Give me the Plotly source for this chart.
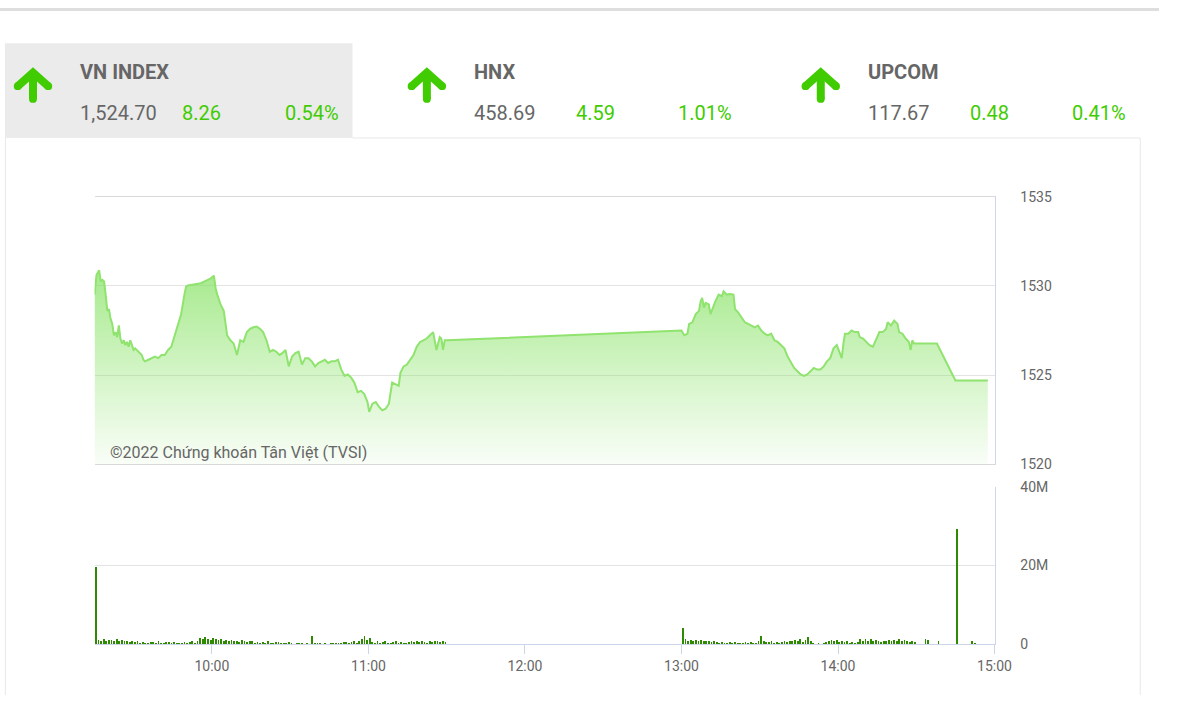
import pandas as pd
import plotly.graph_objects as go

W, H = 1177, 703
DAY = "2022-01-04 "

# ---------------- data ----------------
idx_times = [
    "09:15:00", "09:15:45", "09:16:46", "09:17:23", "09:18:01", "09:18:40", "09:19:16", "09:19:54",
    "09:20:33", "09:21:02", "09:21:48", "09:22:26", "09:23:02", "09:23:41", "09:24:19", "09:24:55",
    "09:25:34", "09:26:12", "09:26:48", "09:27:27", "09:28:05", "09:28:42", "09:29:20", "09:29:59",
    "09:30:35", "09:31:52", "09:33:07", "09:33:45", "09:34:21", "09:35:38", "09:36:53", "09:38:08",
    "09:39:25", "09:40:40", "09:41:55", "09:43:11", "09:44:26", "09:45:41", "09:46:58", "09:48:13",
    "09:49:27", "09:50:05", "09:50:44", "09:51:59", "09:53:14", "09:54:31", "09:55:45", "09:57:00",
    "09:58:17", "09:59:32", "10:00:46", "10:01:25", "10:02:03", "10:03:18", "10:04:33", "10:05:50",
    "10:07:05", "10:08:19", "10:09:36", "10:10:51", "10:12:05", "10:13:23", "10:14:37", "10:15:52",
    "10:17:09", "10:18:24", "10:19:38", "10:20:55", "10:22:10", "10:23:25", "10:24:42", "10:25:56",
    "10:26:58", "10:28:13", "10:29:27", "10:30:44", "10:31:59", "10:33:14", "10:34:31", "10:35:45",
    "10:37:00", "10:38:17", "10:39:32", "10:40:46", "10:42:04", "10:43:18", "10:44:33", "10:45:50",
    "10:47:05", "10:48:19", "10:49:36", "10:50:51", "10:52:05", "10:53:23", "10:54:37", "10:55:52",
    "10:57:09", "10:58:24", "10:59:38", "11:00:17", "11:01:32", "11:02:49", "11:04:04", "11:05:18",
    "11:06:35", "11:07:50", "11:09:05", "11:10:21", "11:11:36", "11:12:15", "11:13:29", "11:14:44",
    "11:16:01", "11:17:16", "11:18:31", "11:19:47", "11:21:02", "11:22:17", "11:23:34", "11:24:49",
    "11:26:04", "11:27:20", "11:27:56", "11:28:35", "11:29:14", "11:30:00",
    "13:00:00", "13:01:02", "13:02:17", "13:02:55", "13:04:10", "13:05:27", "13:06:42", "13:07:20",
    "13:07:56", "13:08:35", "13:09:14", "13:10:28", "13:11:07", "13:11:43", "13:13:00", "13:14:15",
    "13:15:29", "13:16:08", "13:17:23", "13:18:40", "13:19:55", "13:20:33", "13:21:47", "13:23:02",
    "13:24:19", "13:25:34", "13:26:49", "13:28:05", "13:29:20", "13:30:35", "13:31:52", "13:33:07",
    "13:34:22", "13:35:38", "13:36:53", "13:38:08", "13:39:25", "13:40:40", "13:41:55", "13:43:11",
    "13:44:26", "13:45:41", "13:46:58", "13:48:13", "13:49:27", "13:50:44", "13:51:59", "13:53:14",
    "13:54:31", "13:55:45", "13:57:00", "13:58:17", "13:59:32", "14:00:46", "14:01:25", "14:02:04",
    "14:02:40", "14:03:56", "14:05:11", "14:06:26", "14:07:43", "14:08:19", "14:09:36", "14:10:51",
    "14:12:05", "14:13:23", "14:14:37", "14:15:52", "14:17:09", "14:18:24", "14:19:02", "14:20:17",
    "14:21:32", "14:22:49", "14:23:25", "14:24:42", "14:25:56", "14:27:11", "14:27:50", "14:28:28",
    "14:29:05", "14:29:43", "14:37:54", "14:45:00", "14:57:24",
]
idx_values = [
    1529.51, 1530.60, 1530.88, 1530.24, 1530.33, 1530.24, 1529.51, 1528.60,
    1528.69, 1528.23, 1527.87, 1527.23, 1527.41, 1527.13, 1527.78, 1527.05,
    1526.77, 1526.95, 1526.68, 1526.86, 1526.59, 1526.95, 1526.68, 1526.41,
    1526.50, 1526.31, 1526.13, 1525.86, 1525.77, 1525.86, 1525.95, 1526.04,
    1525.95, 1526.13, 1526.13, 1526.41, 1526.59, 1527.23, 1527.87, 1528.42,
    1529.51, 1529.96, 1530.02, 1530.06, 1530.09, 1530.15, 1530.15, 1530.24,
    1530.33, 1530.42, 1530.57, 1529.87, 1529.51, 1528.96, 1528.60, 1527.23,
    1526.95, 1526.77, 1526.13, 1526.95, 1526.86, 1527.41, 1527.59, 1527.68,
    1527.72, 1527.59, 1527.41, 1526.95, 1526.31, 1526.41, 1526.31, 1526.13,
    1526.23, 1526.41, 1525.49, 1526.04, 1526.23, 1526.31, 1525.59, 1525.95,
    1525.95, 1525.77, 1525.49, 1525.68, 1525.77, 1525.86, 1525.68, 1525.77,
    1525.77, 1525.86, 1525.31, 1524.95, 1525.04, 1524.86, 1524.58, 1524.04,
    1524.12, 1523.94, 1523.49, 1522.94, 1523.40, 1523.49, 1523.22, 1523.03,
    1523.12, 1523.40, 1524.58, 1524.49, 1524.40, 1525.13, 1525.49, 1525.59,
    1525.86, 1526.13, 1526.59, 1526.86, 1526.95, 1527.05, 1527.23, 1527.41,
    1526.41, 1527.13, 1527.05, 1526.41, 1526.95, 1526.95,
    1527.50, 1527.23, 1527.32, 1527.87, 1527.96, 1528.42, 1528.60, 1529.14,
    1529.32, 1528.78, 1529.05, 1528.96, 1528.42, 1528.69, 1529.14, 1529.51,
    1529.42, 1529.69, 1529.51, 1529.54, 1529.51, 1528.69, 1528.50, 1528.23,
    1527.96, 1527.87, 1527.78, 1527.68, 1527.78, 1527.50, 1527.32, 1527.23,
    1527.32, 1526.95, 1526.86, 1526.68, 1526.50, 1526.04, 1525.68, 1525.40,
    1525.22, 1525.04, 1524.95, 1525.04, 1525.22, 1525.40, 1525.31, 1525.31,
    1525.49, 1525.77, 1525.95, 1526.50, 1526.68, 1526.23, 1525.95, 1526.77,
    1527.32, 1527.32, 1527.50, 1527.41, 1527.41, 1527.13, 1527.05, 1526.86,
    1526.68, 1526.59, 1527.05, 1527.41, 1527.41, 1527.59, 1527.96, 1527.78,
    1528.05, 1527.87, 1527.41, 1527.32, 1527.05, 1526.86, 1526.41, 1526.95,
    1526.77, 1526.77, 1526.77, 1524.70, 1524.70,
]

# volume per minute (millions of shares)
vol_am_start = "09:15"
vol_am = [
    19.6, 1.0, 0.9, 1.2, 0.8, 1.1, 1.0, 0.9, 1.3, 0.8, 1.0, 0.7, 0.9, 0.6, 0.8,
    0.5, 0.7, 0.4, 0.6, 0.3, 0.2, 0.6, 0.5, 0.3, 0.7, 0.4, 0.2, 0.5, 0.6, 0.3,
    0.5, 0.2, 0.4, 0.3, 0.6, 0.3, 0.5, 0.7, 0.4, 0.9, 1.6, 1.2, 1.8, 1.4, 1.1,
    1.5, 1.2, 1.0, 1.3, 0.9, 1.1, 0.8, 1.0, 0.7, 0.9, 0.6, 1.0, 0.8, 0.5, 0.9,
    0.7, 0.3, 0.5, 0.2, 0.6, 0.4, 0.7, 0.3, 0.2, 0.5, 0.6, 0.2, 0.4, 0.3, 0.5,
    0.2, 0.1, 0.4, 0.2, 0.3, 0.1, 0.2, 0.1, 2.2, 0.4, 0.2, 0.3, 0.1, 0.2, 0.1,
    0.2, 0.3, 0.2, 0.4, 0.3, 0.5, 0.6, 0.3, 0.5, 0.7, 0.4, 0.8, 1.2, 2.0, 1.1,
    1.6, 0.6, 0.4, 0.7, 0.3, 0.5, 0.8, 0.4, 0.3, 0.6, 0.7, 0.3, 0.5, 0.4, 0.2,
    0.6, 0.8, 0.5, 0.7, 0.6, 0.9, 0.5, 0.4, 0.8, 0.6, 0.9, 0.7, 0.5, 0.8, 0.6,
]
vol_pm_start = "13:00"
vol_pm = [
    4.0, 1.2, 0.9, 1.0, 0.8, 1.1, 0.9, 1.0, 0.8, 0.7, 0.9, 0.6, 0.8, 0.5, 0.3,
    0.6, 0.2, 0.4, 0.6, 0.3, 0.5, 0.2, 0.4, 0.3, 0.5, 0.2, 0.6, 0.4, 0.3, 0.7,
    2.2, 0.8, 0.6, 0.5, 0.7, 0.4, 0.6, 0.3, 0.5, 0.8, 0.6, 0.9, 0.7, 1.1, 0.8,
    1.2, 0.6, 1.0, 1.7, 0.9, 0.3, 0.1, 0.2, 0.1, 0.3, 0.5, 0.8, 1.0, 0.7, 1.1,
    0.6, 0.9, 0.5, 0.8, 0.4, 0.6, 0.3, 0.5, 1.2, 0.8, 1.4, 0.9, 1.3, 0.7, 1.1,
    0.8, 0.6, 0.9, 0.7, 1.0, 0.8, 1.1, 0.9, 1.2, 0.8, 1.0, 0.7, 0.5, 0.9, 0.6,
]
vol_late_times = ["14:33", "14:34", "14:38", "14:45", "14:51", "14:52"]
vol_late = [1.3, 1.1, 0.7, 29.4, 0.7, 0.2]

hour_ticks = ["10:00", "11:00", "12:00", "13:00", "14:00", "15:00"]
price_ticks = [1520, 1525, 1530, 1535]
vol_ticks = [0, 20, 40]
vol_tick_text = ["0", "20M", "40M"]

header = [
    # name, price, change, pct, left x
    ("VN INDEX", "1,524.70", "8.26", "0.54%", 80),
    ("HNX", "458.69", "4.59", "1.01%", 480),
    ("UPCOM", "117.67", "0.48", "0.41%", 880),
]
copyright_text = "©2022 Chứng khoán Tân Việt (TVSI)"

# ---------------- helpers (page pixel -> paper fraction) ----------------
def px(x):
    return x / W


def py(y):
    return 1 - y / H


GRAY = "#666666"
GREEN = "#40cc00"
FONT = "Roboto"

t_idx = pd.to_datetime([DAY + t for t in idx_times])
t_am = pd.date_range(DAY + vol_am_start, periods=len(vol_am), freq="1min")
t_pm = pd.date_range(DAY + vol_pm_start, periods=len(vol_pm), freq="1min")
t_late = pd.to_datetime([DAY + t for t in vol_late_times])
vol_t = list(t_am) + list(t_pm) + list(t_late)
vol_t = [t + pd.Timedelta(seconds=30) for t in vol_t]
vol_v = vol_am + vol_pm + vol_late

fig = go.Figure()

fig.add_trace(go.Scatter(
    x=t_idx, y=idx_values, mode="lines",
    line=dict(color="#8fe36e", width=2),
    fill="tozeroy",
    fillgradient=dict(
        type="vertical", start=1520, stop=1531,
        colorscale=[[0, "rgba(140,228,105,0.03)"], [1, "rgba(130,225,95,0.72)"]],
    ),
    xaxis="x", yaxis="y", hoverinfo="skip", showlegend=False,
))

fig.add_trace(go.Bar(
    x=vol_t, y=vol_v, width=42000,
    marker=dict(color="#2e8a00", line=dict(width=0)),
    xaxis="x2", yaxis="y2", hoverinfo="skip", showlegend=False,
))

xr = [DAY + "09:15", DAY + "15:00"]
dom_x = [px(96), px(1010)]
tickfont = dict(family=FONT, size=14, color=GRAY)

fig.update_layout(
    width=W, height=H,
    margin=dict(l=0, r=0, t=0, b=0),
    paper_bgcolor="white", plot_bgcolor="rgba(0,0,0,0)",
    bargap=0,
    xaxis=dict(domain=dom_x, type="date", range=xr, anchor="y",
               showticklabels=False, showgrid=False, zeroline=False,
               showline=True, linecolor="#d9d9d9", linewidth=1, mirror=True, ticks=""),
    yaxis=dict(domain=[py(467), py(193)], range=[1520, 1535], tickvals=price_ticks,
               side="right", anchor="x", showline=True, linecolor="#ccd6eb", linewidth=1,
               gridcolor="#e3e3e3", gridwidth=1, zeroline=False, ticks="",
               ticklabelstandoff=22, tickfont=tickfont),
    xaxis2=dict(domain=dom_x, type="date", range=xr, anchor="y2",
                tickvals=[DAY + h for h in hour_ticks], tickformat="%H:%M",
                ticks="outside", ticklen=9, tickcolor="#ccd6eb", tickwidth=1,
                showline=True, linecolor="#ccd6eb", linewidth=1,
                showgrid=False, zeroline=False, tickfont=tickfont),
    yaxis2=dict(domain=[py(651), py(490)], range=[0, 40], tickvals=vol_ticks,
                ticktext=vol_tick_text, side="right", anchor="x2",
                showline=True, linecolor="#ccd6eb", linewidth=1,
                gridcolor="#e3e3e3", zeroline=False, ticks="",
                ticklabelstandoff=22, tickfont=tickfont),
)

shapes = []
# page top bar
shapes.append(dict(type="rect", xref="paper", yref="paper", x0=0, x1=1, y0=py(3), y1=1,
                   fillcolor="#dedede", line=dict(width=0), layer="below"))
# selected tab
shapes.append(dict(type="rect", xref="paper", yref="paper", x0=px(5), x1=px(358), y0=py(133), y1=py(36),
                   fillcolor="#ebebeb", line=dict(width=0), layer="below"))
# panel borders
for (x0, y0, x1, y1) in [(358, 133, 1158, 133), (5.5, 133, 5.5, 703), (1158, 133, 1158, 703)]:
    shapes.append(dict(type="line", xref="paper", yref="paper", x0=px(x0), y0=py(y0), x1=px(x1), y1=py(y1),
                       line=dict(color="#e8e8e8", width=1), layer="below"))

annotations = []
for name, price, chg, pct, lx in header:
    cx = lx - 46.5
    shapes.append(dict(type="path", xref="paper", yref="paper",
                       path=f"M {px(cx-15.5)},{py(80)} L {px(cx)},{py(66)} L {px(cx+15.5)},{py(80)}",
                       line=dict(color=GREEN, width=8)))
    shapes.append(dict(type="line", xref="paper", yref="paper",
                       x0=px(cx), y0=py(67), x1=px(cx), y1=py(93),
                       line=dict(color=GREEN, width=8)))
    for (ex, ey) in [(cx - 15.5, 80), (cx + 15.5, 80), (cx, 93)]:
        shapes.append(dict(type="circle", xref="paper", yref="paper",
                           x0=px(ex - 4), x1=px(ex + 4), y0=py(ey + 4), y1=py(ey - 4),
                           fillcolor=GREEN, line=dict(width=0)))
    annotations.append(dict(text=f"<b>{name}</b>", x=px(lx - 1), y=py(66), xref="paper", yref="paper",
                            xanchor="left", yanchor="middle", showarrow=False,
                            font=dict(family=FONT, size=20, color=GRAY)))
    annotations.append(dict(text=price, x=px(lx - 1), y=py(107), xref="paper", yref="paper",
                            xanchor="left", yanchor="middle", showarrow=False,
                            font=dict(family=FONT, size=20, color=GRAY)))
    annotations.append(dict(text=chg, x=px(lx + 103), y=py(107), xref="paper", yref="paper",
                            xanchor="left", yanchor="middle", showarrow=False,
                            font=dict(family=FONT, size=20, color=GREEN)))
    annotations.append(dict(text=pct, x=px(lx + 207), y=py(107), xref="paper", yref="paper",
                            xanchor="left", yanchor="middle", showarrow=False,
                            font=dict(family=FONT, size=20, color=GREEN)))

annotations.append(dict(text=copyright_text, x=px(110), y=py(455), xref="paper", yref="paper",
                        xanchor="left", yanchor="middle", showarrow=False,
                        font=dict(family=FONT, size=16, color=GRAY)))

fig.update_layout(shapes=shapes, annotations=annotations)

fig.write_html("out.html", config={"displayModeBar": False, "staticPlot": True},
               post_script="document.body.style.margin='0';document.body.style.overflow='hidden';")
